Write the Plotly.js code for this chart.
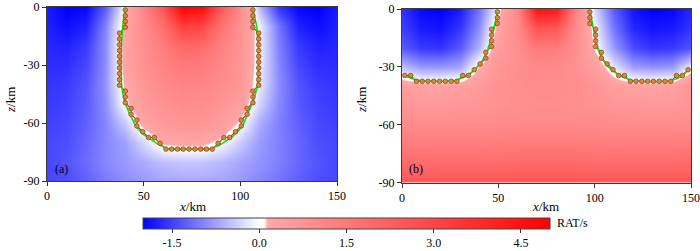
<!DOCTYPE html>
<html>
<head>
<meta charset="utf-8">
<script src="https://cdn.plot.ly/plotly-3.0.1.min.js"></script>
<style>html,body{margin:0;padding:0;background:#fff;}#chart{width:700px;height:251px;}</style>
</head>
<body>
<div id="chart"></div>
<script>
// grid (km)
const xGrid = [0,10,20,30,40,50,60,70,80,90,100,110,120,130,140,150];
const zGrid = [0,-10,-20,-30,-40,-50,-60,-70,-80,-90];

// panel (a) RAT field, rows follow zGrid
const fieldA = [
  [-1.8,-2.0,-1.95,-1.3,-0.05,1.2,2.6,4.9,4.7,2.5,1.0,-0.6,-1.6,-1.95,-2.0,-1.8],
  [-1.75,-1.9,-1.75,-1.0,0.2,1.0,1.8,3.2,3.0,1.7,0.8,-0.15,-1.1,-1.75,-1.9,-1.75],
  [-1.7,-1.75,-1.55,-0.9,0.25,0.9,1.4,2.0,1.9,1.3,0.75,-0.15,-1.0,-1.55,-1.75,-1.7],
  [-1.65,-1.65,-1.45,-0.9,0.25,0.8,1.2,1.5,1.45,1.1,0.7,-0.15,-0.95,-1.45,-1.65,-1.65],
  [-1.6,-1.55,-1.35,-0.85,0.15,0.7,1.0,1.2,1.15,0.95,0.65,-0.2,-0.9,-1.35,-1.55,-1.6],
  [-1.55,-1.5,-1.3,-0.9,-0.02,0.55,0.8,0.95,0.9,0.75,0.4,-0.35,-0.95,-1.3,-1.5,-1.55],
  [-1.5,-1.45,-1.25,-0.95,-0.45,0.3,0.6,0.7,0.7,0.5,0.05,-0.65,-1.0,-1.25,-1.45,-1.5],
  [-1.45,-1.4,-1.2,-0.95,-0.75,-0.3,0.2,0.25,0.25,0.0,-0.4,-0.8,-1.0,-1.2,-1.4,-1.45],
  [-1.45,-1.35,-1.15,-0.95,-0.8,-0.65,-0.5,-0.45,-0.45,-0.55,-0.7,-0.85,-1.0,-1.2,-1.35,-1.45],
  [-1.45,-1.4,-1.25,-1.05,-0.9,-0.8,-0.72,-0.68,-0.68,-0.72,-0.8,-0.95,-1.1,-1.25,-1.4,-1.45]
];

// panel (b) RAT field, rows follow zGrid
const fieldB = [
  [-1.6,-1.95,-2.0,-1.8,-1.1,-0.05,1.2,4.5,4.3,1.3,-0.35,-1.3,-1.85,-2.0,-1.95,-1.7],
  [-1.5,-1.8,-1.85,-1.6,-0.9,0.3,1.0,2.6,2.5,1.0,-0.1,-1.1,-1.7,-1.85,-1.8,-1.6],
  [-1.3,-1.55,-1.6,-1.3,-0.6,0.5,0.9,1.5,1.45,0.9,0.05,-0.8,-1.4,-1.6,-1.55,-1.35],
  [-0.5,-0.8,-0.8,-0.7,0.15,0.7,0.85,1.0,1.0,0.85,0.45,-0.2,-0.75,-0.85,-0.8,-0.1],
  [0.45,0.3,0.3,0.35,0.55,0.8,0.9,0.95,0.95,0.9,0.75,0.4,0.3,0.3,0.35,0.7],
  [0.7,0.6,0.6,0.65,0.7,0.8,0.85,0.9,0.9,0.85,0.8,0.7,0.65,0.6,0.6,0.7],
  [1.0,0.95,0.95,0.95,1.0,1.0,1.05,1.05,1.05,1.05,1.0,1.0,0.95,0.95,0.95,1.0],
  [1.45,1.4,1.4,1.4,1.4,1.45,1.45,1.45,1.45,1.45,1.45,1.4,1.4,1.4,1.4,1.45],
  [1.95,1.9,1.9,1.9,1.9,1.9,1.95,1.95,1.95,1.95,1.9,1.9,1.9,1.9,1.9,1.95],
  [2.55,2.5,2.5,2.5,2.5,2.5,2.55,2.55,2.55,2.55,2.5,2.5,2.5,2.5,2.5,2.55]
];

// true boundaries (green lines)
const lineAx = [40.5,39.6,38.9,38.4,38.3,38.6,39.8,42.6,46.1,50,54.2,58,62,68,73.5,79,85.2,89.5,93,96,101,103.9,107,108.8,109.2,109.2,108.5,106.5];
const lineAz = [-1,-6,-13.6,-22,-31,-41,-48,-55,-62,-66,-68.8,-71.3,-73.2,-73.5,-73.5,-73.5,-73.2,-71.3,-69,-67,-62,-55,-48,-41,-31,-20,-10,-1];
const lineB1x = [1.5,5,10,20,28,33,37,40,42.5,44.5,46.2,47.8,48.8,49.6];
const lineB1z = [-34.5,-36,-37.3,-37.6,-37,-35,-32.2,-29.2,-25.5,-21,-15.5,-10,-5,-1];
const lineB2x = [97.6,98.6,99.6,100.6,102,104,106.5,110,114,119,125,133,139,143,146,148.7];
const lineB2z = [-1,-6,-11,-16.5,-21.5,-26,-29.5,-32.5,-35,-37,-37.7,-37.7,-37.2,-36,-34.3,-31.5];

// recovered boundary points (orange dots)
const dotsAx = [40.5,40.5,40.5,40.5,37.5,37.5,37.5,37.5,37.5,37.5,37.5,37.5,37.5,37.5,40.5,40.5,40.5,43.5,43.5,46.5,46.5,49.5,52.5,55.5,58.5,
  61.5,64.5,67.5,70.5,73.5,76.5,79.5,82.5,85.5,
  88.5,91.5,94.5,97.5,100.5,100.5,103.5,103.5,106.5,106.5,106.5,109.5,109.5,109.5,109.5,109.5,109.5,109.5,109.5,109.5,109.5,106.5,106.5,106.5,106.5];
const dotsAz = [-1.5,-4.5,-7.5,-10.5,-13.5,-16.5,-19.5,-22.5,-25.5,-28.5,-31.5,-34.5,-37.5,-40.5,-43.5,-46.5,-49.5,-52.5,-55.5,-58.5,-61.5,-64.5,-67.5,-67.5,-70.5,
  -73.5,-73.5,-73.5,-73.5,-73.5,-73.5,-73.5,-73.5,-73.5,
  -70.5,-67.5,-67.5,-64.5,-61.5,-58.5,-55.5,-52.5,-49.5,-46.5,-43.5,-40.5,-37.5,-34.5,-31.5,-28.5,-25.5,-22.5,-19.5,-16.5,-13.5,-10.5,-7.5,-4.5,-1.5];
const dotsB1x = [1.5,4.5,7.5,10.5,13.5,16.5,19.5,22.5,25.5,28.5,31.5,34.5,37.5,40.5,43.5,43.5,46.5,46.5,46.5,46.5,49.5,49.5,49.5];
const dotsB1z = [-34.5,-34.5,-37.5,-37.5,-37.5,-37.5,-37.5,-37.5,-37.5,-37.5,-34.5,-34.5,-31.5,-28.5,-25.5,-22.5,-19.5,-16.5,-13.5,-10.5,-7.5,-4.5,-1.5];
const dotsB2x = [97.5,97.5,97.5,100.5,100.5,100.5,100.5,103.5,103.5,106.5,109.5,112.5,115.5,118.5,121.5,124.5,127.5,130.5,133.5,136.5,139.5,142.5,145.5,148.5];
const dotsB2z = [-1.5,-4.5,-7.5,-10.5,-13.5,-16.5,-19.5,-22.5,-25.5,-28.5,-31.5,-34.5,-34.5,-37.5,-37.5,-37.5,-37.5,-37.5,-37.5,-37.5,-37.5,-34.5,-34.5,-31.5];

const xTicks = [0,50,100,150];
const zTicks = [0,-30,-60,-90];
const zTickText = ['0','-30','-60','-90'];
const cbTicks = [-1.5,0,1.5,3.0,4.5];
const cbTickText = ['-1.5','0.0','1.5','3.0','4.5'];

const FONT = "'Liberation Serif', 'Times New Roman', Times, serif";
const greenLine = {color:'rgb(20,225,20)', width:1.6};
const redLine = {color:'rgb(230,30,30)', width:1.1};
const dotMarker = {size:4.6, color:'rgb(212,138,58)', line:{color:'rgb(140,75,30)', width:0.8}};

function heat(z, xa, ya){
  return {type:'heatmap', x:xGrid, y:zGrid, z:z, coloraxis:'coloraxis', zsmooth:'best', xaxis:xa, yaxis:ya, hoverinfo:'skip'};
}
function line(x,z,xa,ya,st){ return {type:'scatter', mode:'lines', x:x, y:z, line:st, xaxis:xa, yaxis:ya, hoverinfo:'skip'}; }
function dots(x,z,xa,ya){ return {type:'scatter', mode:'markers', x:x, y:z, marker:dotMarker, xaxis:xa, yaxis:ya, hoverinfo:'skip'}; }

const data = [
  heat(fieldA,'x','y'),
  line(dotsAx,dotsAz,'x','y',redLine),
  line(lineAx,lineAz,'x','y',greenLine),
  dots(dotsAx,dotsAz,'x','y'),
  heat(fieldB,'x2','y2'),
  line(dotsB1x,dotsB1z,'x2','y2',redLine),
  line(dotsB2x,dotsB2z,'x2','y2',redLine),
  line(lineB1x,lineB1z,'x2','y2',greenLine),
  line(lineB2x,lineB2z,'x2','y2',greenLine),
  dots(dotsB1x,dotsB1z,'x2','y2'),
  dots(dotsB2x,dotsB2z,'x2','y2')
];

function xa(dom, anchor){
  return {domain:dom, anchor:anchor, range:[0,150], tickvals:xTicks, ticks:'outside', ticklen:4, tickcolor:'#333',
    showline:true, mirror:true, linecolor:'#3a3a3a', linewidth:1, showgrid:false, zeroline:false,
    tickfont:{family:FONT, size:12, color:'#000'}};
}
function ya(dom, anchor){
  return {domain:dom, anchor:anchor, range:[-90,0], tickvals:zTicks, ticktext:zTickText, ticks:'outside', ticklen:4, tickcolor:'#333',
    showline:true, mirror:true, linecolor:'#3a3a3a', linewidth:1, showgrid:false, zeroline:false,
    tickfont:{family:FONT, size:12, color:'#000'}};
}
const W = 700, H = 251;
const layout = {
  width:W, height:H, margin:{l:0,r:0,t:0,b:0}, paper_bgcolor:'#fff', plot_bgcolor:'#fff', showlegend:false,
  font:{family:FONT, size:12, color:'#000'},
  xaxis: xa([47/W, 337/W], 'y'),
  yaxis: ya([1-181/H, 1-7/H], 'x'),
  xaxis2: xa([402/W, 691/W], 'y2'),
  yaxis2: ya([1-182.5/H, 1-9/H], 'x2'),
  coloraxis:{cmin:-2, cmax:5,
    colorscale:[[0,'rgb(0,0,255)'],[2/7,'rgb(255,255,255)'],[2.08/7,'rgb(255,255,255)'],[2.15/7,'rgb(255,168,168)'],[1,'rgb(255,0,0)']],
    colorbar:{orientation:'h', x:143/W, xanchor:'left', y:1-217.5/H, yanchor:'top', len:407, lenmode:'pixels', thickness:11,
      xpad:0, ypad:0, outlinewidth:1, outlinecolor:'#444', tickvals:cbTicks, ticktext:cbTickText, ticks:'outside', ticklen:4, tickcolor:'#333',
      tickfont:{family:FONT, size:12, color:'#000'}}
  },
  annotations:[
    {text:'RAT/s', xref:'paper', yref:'paper', x:555/W, y:1-223/H, showarrow:false, font:{family:FONT,size:12}, xanchor:'left', yanchor:'middle'},
    {text:'(a)', xref:'paper', yref:'paper', x:61/W, y:1-169/H, showarrow:false, font:{family:FONT,size:12}, xanchor:'center', yanchor:'middle'},
    {text:'(b)', xref:'paper', yref:'paper', x:416/W, y:1-168.5/H, showarrow:false, font:{family:FONT,size:12}, xanchor:'center', yanchor:'middle'},
    {text:'<i>z</i>/km', xref:'paper', yref:'paper', x:10/W, y:1-100/H, textangle:-90, showarrow:false, font:{family:FONT,size:13}, xanchor:'center', yanchor:'middle'},
    {text:'<i>z</i>/km', xref:'paper', yref:'paper', x:361/W, y:1-100/H, textangle:-90, showarrow:false, font:{family:FONT,size:13}, xanchor:'center', yanchor:'middle'},
    {text:'<i>x</i>/km', xref:'paper', yref:'paper', x:192/W, y:1-206/H, showarrow:false, font:{family:FONT,size:13}, xanchor:'center', yanchor:'middle'},
    {text:'<i>x</i>/km', xref:'paper', yref:'paper', x:545/W, y:1-206/H, showarrow:false, font:{family:FONT,size:13}, xanchor:'center', yanchor:'middle'}
  ]
};
Plotly.newPlot('chart', data, layout, {staticPlot:true, displayModeBar:false});
</script>
</body>
</html>
